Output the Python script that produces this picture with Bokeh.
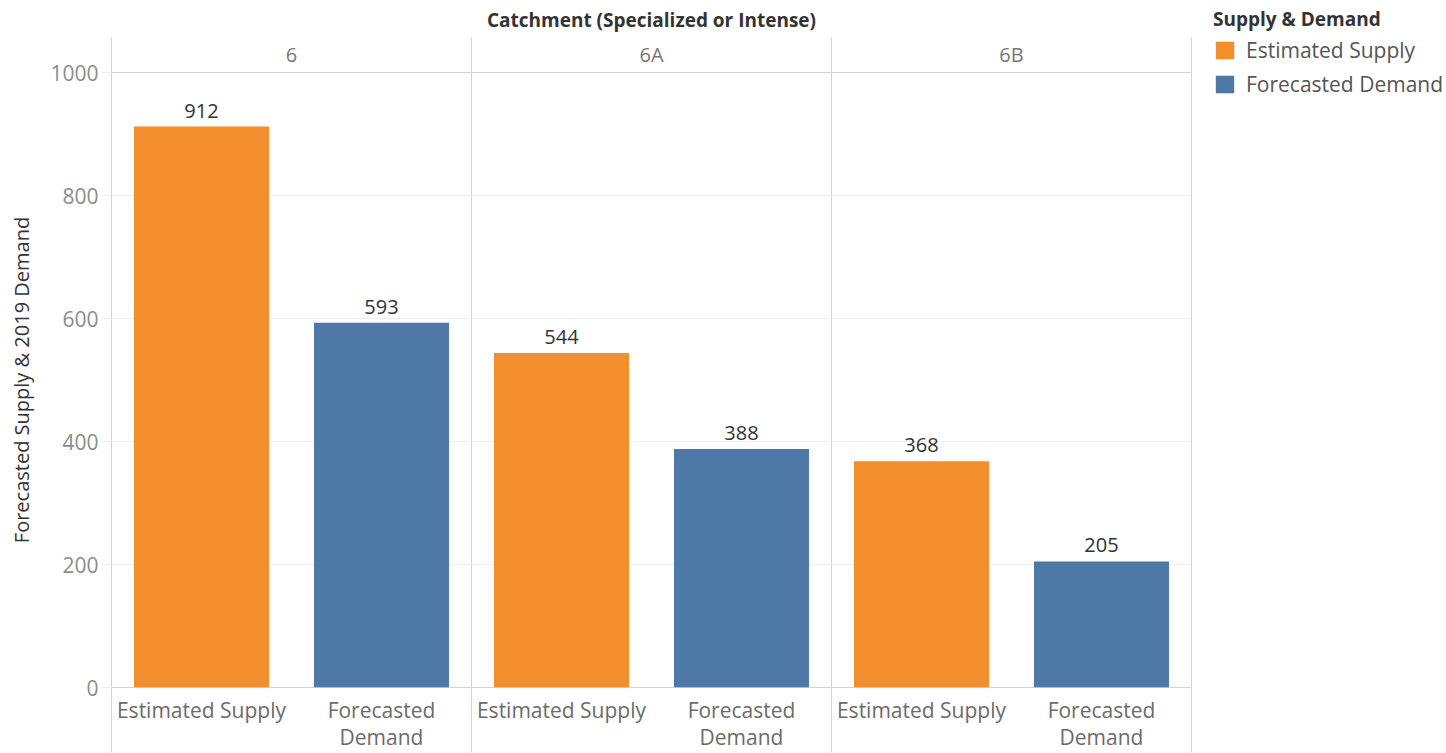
from bokeh.plotting import figure
from bokeh.layouts import row, column
from bokeh.models import (ColumnDataSource, Range1d, LinearAxis, FixedTicker,
                          Legend, LegendItem)
from bokeh.core.properties import value
from bokeh.embed import file_html
from bokeh.resources import INLINE

# ---- data ----
catchments = ["6", "6A", "6B"]
measures = ["Estimated Supply", "Forecasted Demand"]
measure_labels = ["Estimated Supply", "Forecasted\nDemand"]
supply = [912, 544, 368]
demand = [593, 388, 205]
colors = ["#F28E2B", "#4E79A7"]
y_ticks = [0, 200, 400, 600, 800, 1000]

FONT = "Open Sans"
n_m = len(measures)
n_slots = len(catchments) * n_m

p = figure(width=1196, height=753, output_backend="svg", toolbar_location=None,
           x_range=Range1d(0, n_slots), y_range=Range1d(0, 1000),
           x_axis_location=None, y_axis_location=None,
           min_border_left=111, min_border_right=5,
           min_border_top=72, min_border_bottom=65)
p.background_fill_color = "white"
p.border_fill_color = "white"
p.outline_line_color = "#d4d4d4"
p.outline_line_width = 1

# ---- legend figure (narrow, to the right) ----
pl = figure(width=250, height=753, output_backend="svg", toolbar_location=None,
            title=None, x_range=Range1d(0, n_slots), y_range=Range1d(0, 1000),
            x_axis_location=None, y_axis_location=None,
            min_border_left=11, min_border_right=0, min_border_top=0, min_border_bottom=0)
pl.outline_line_color = None
pl.grid.visible = False
pl.background_fill_color = "white"
pl.border_fill_color = "white"

# ---- bars ----
leg_renderers = []
for mi, (m, vals) in enumerate(zip(measures, [supply, demand])):
    xs = [ci * n_m + mi + 0.5 for ci in range(len(catchments))]
    src = ColumnDataSource(dict(x=xs, top=vals, lab=[str(v) for v in vals]))
    p.vbar(x="x", top="top", width=0.75, bottom=0, source=src,
           fill_color=colors[mi], line_color=None)
    p.text(x="x", y="top", text="lab", source=src, text_align="center",
           text_baseline="bottom", y_offset=-9,
           text_font=value(FONT), text_font_size="20px", text_color="#333333")
    # hidden twin used only to draw the legend swatch
    leg_renderers.append(pl.vbar(x="x", top="top", width=0.75, bottom=0, source=src,
                                 fill_color=colors[mi], line_color=None, visible=False))

# ---- grids ----
p.xgrid.ticker = FixedTicker(ticks=[n_m * i for i in range(1, len(catchments))])
p.xgrid.grid_line_color = "#d4d4d4"
p.ygrid.ticker = FixedTicker(ticks=y_ticks[1:-1])
p.ygrid.grid_line_color = "#efefef"

# ---- y axis ----
yax = LinearAxis(ticker=FixedTicker(ticks=y_ticks),
                 axis_label="Forecasted Supply & 2019 Demand")
yax.axis_line_color = None
yax.major_tick_in = 0
yax.major_tick_out = 10
yax.major_tick_line_color = "#ebebeb"
yax.minor_tick_line_color = None
yax.major_label_standoff = 3
yax.major_label_text_font = FONT
yax.major_label_text_font_size = "21px"
yax.major_label_text_color = "#8c8c8c"
yax.axis_label_text_font = FONT
yax.axis_label_text_font_size = "20px"
yax.axis_label_text_font_style = "normal"
yax.axis_label_text_color = "#333333"
yax.axis_label_standoff = 12
p.add_layout(yax, "left")

sep = [n_m * i for i in range(len(catchments) + 1)]

# ---- bottom axis: measures ----
xb = LinearAxis(ticker=FixedTicker(ticks=[ci * n_m + mi + 0.5 for ci in range(len(catchments)) for mi in range(n_m)],
                                   minor_ticks=sep))
xb.major_label_overrides = {ci * n_m + mi + 0.5: measure_labels[mi]
                            for ci in range(len(catchments)) for mi in range(n_m)}
xb.axis_line_color = None
xb.major_tick_in = 0
xb.major_tick_out = 0
xb.major_tick_line_color = None
xb.minor_tick_in = 0
xb.minor_tick_out = 65
xb.minor_tick_line_color = "#d4d4d4"
xb.major_label_standoff = -57
xb.major_label_text_font = FONT
xb.major_label_text_font_size = "21px"
xb.major_label_text_color = "#6b6b6b"
xb.major_label_text_line_height = 0.98
p.add_layout(xb, "below")

# ---- top axis: catchments ----
xt = LinearAxis(ticker=FixedTicker(ticks=[ci * n_m + n_m / 2 for ci in range(len(catchments))],
                                   minor_ticks=sep),
                axis_label="Catchment (Specialized or Intense)")
xt.major_label_overrides = {ci * n_m + n_m / 2: c for ci, c in enumerate(catchments)}
xt.axis_line_color = None
xt.major_tick_in = 0
xt.major_tick_out = 0
xt.major_tick_line_color = None
xt.minor_tick_in = 0
xt.minor_tick_out = 35
xt.minor_tick_line_color = "#d4d4d4"
xt.major_label_standoff = -30
xt.major_label_text_font = FONT
xt.major_label_text_font_size = "20px"
xt.major_label_text_color = "#777777"
xt.axis_label_text_font = FONT
xt.axis_label_text_font_size = "19px"
xt.axis_label_text_font_style = "bold"
xt.axis_label_text_color = "#333333"
xt.axis_label_standoff = 5
p.add_layout(xt, "above")

# ---- legend ----
legend = Legend(items=[LegendItem(label=m, renderers=[r]) for m, r in zip(measures, leg_renderers)],
                title="Supply & Demand", location="top_left")
legend.padding = 0
legend.margin = 6
legend.border_line_color = None
legend.background_fill_alpha = 0
legend.glyph_width = 23
legend.glyph_height = 22
legend.label_standoff = 10
legend.spacing = 6
legend.title_standoff = 4
legend.label_text_font = FONT
legend.label_text_font_size = "21px"
legend.label_text_color = "#555555"
legend.title_text_font = FONT
legend.title_text_font_size = "19px"
legend.title_text_font_style = "bold"
legend.title_text_color = "#333333"
pl.add_layout(legend)

layout = row(p, column(pl))
open("out.html", "w").write(file_html(layout, INLINE))
